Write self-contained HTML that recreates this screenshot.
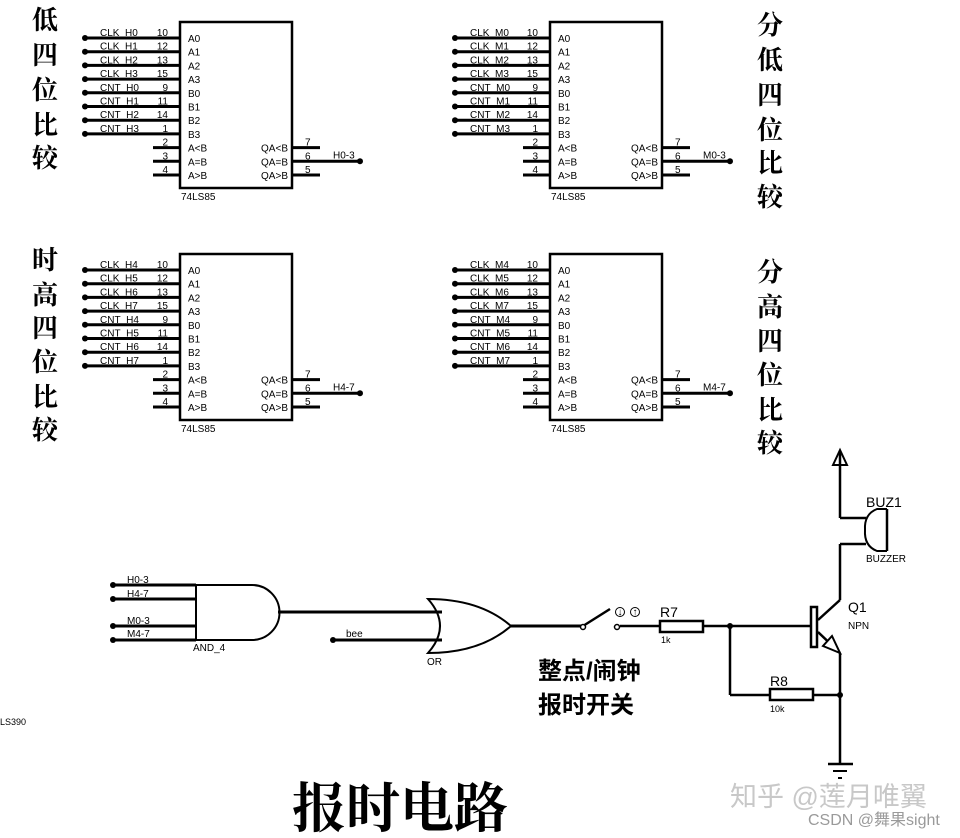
<!DOCTYPE html>
<html><head><meta charset="utf-8"><style>
html,body{margin:0;padding:0;background:#fff;}
svg{display:block;}
.t{font-family:"Liberation Sans",sans-serif;font-size:10px;fill:#000;}
.cj{font-family:"Liberation Serif","Noto Serif CJK SC",serif;font-weight:bold;font-size:26px;fill:#000;}
.cs{font-family:"Liberation Sans","Noto Sans CJK SC",sans-serif;font-weight:bold;fill:#000;}
</style></head><body>
<svg width="960" height="838" viewBox="0 0 960 838" xmlns="http://www.w3.org/2000/svg">
<g id="c1" stroke="#000" fill="none">
<rect x="180" y="22" width="112" height="166" stroke-width="2.5"/>
<g stroke-width="3">
<line x1="85" y1="38" x2="180" y2="38"/><line x1="85" y1="51.7" x2="180" y2="51.7"/><line x1="85" y1="65.4" x2="180" y2="65.4"/><line x1="85" y1="79.1" x2="180" y2="79.1"/><line x1="85" y1="92.8" x2="180" y2="92.8"/><line x1="85" y1="106.5" x2="180" y2="106.5"/><line x1="85" y1="120.2" x2="180" y2="120.2"/><line x1="85" y1="133.9" x2="180" y2="133.9"/>
<line x1="153" y1="147.6" x2="180" y2="147.6"/><line x1="153" y1="161.3" x2="180" y2="161.3"/><line x1="153" y1="175" x2="180" y2="175"/>
<line x1="292" y1="147.6" x2="320" y2="147.6"/><line x1="292" y1="161.3" x2="360" y2="161.3"/><line x1="292" y1="175" x2="320" y2="175"/>
</g>
<g fill="#000" stroke="none"><circle cx="85" cy="38" r="3"/><circle cx="85" cy="51.7" r="3"/><circle cx="85" cy="65.4" r="3"/><circle cx="85" cy="79.1" r="3"/><circle cx="85" cy="92.8" r="3"/><circle cx="85" cy="106.5" r="3"/><circle cx="85" cy="120.2" r="3"/><circle cx="85" cy="133.9" r="3"/><circle cx="360" cy="161.3" r="3"/></g>
</g>
<g class="t">
<text x="100" y="36">CLK_H0</text><text x="100" y="49.7">CLK_H1</text><text x="100" y="63.4">CLK_H2</text><text x="100" y="77.1">CLK_H3</text><text x="100" y="90.8">CNT_H0</text><text x="100" y="104.5">CNT_H1</text><text x="100" y="118.2">CNT_H2</text><text x="100" y="131.9">CNT_H3</text>
<g text-anchor="end"><text x="168" y="36">10</text><text x="168" y="49.7">12</text><text x="168" y="63.4">13</text><text x="168" y="77.1">15</text><text x="168" y="90.8">9</text><text x="168" y="104.5">11</text><text x="168" y="118.2">14</text><text x="168" y="131.9">1</text><text x="168" y="145.6">2</text><text x="168" y="159.3">3</text><text x="168" y="173">4</text>
<text x="288" y="151.6">QA&lt;B</text><text x="288" y="165.3">QA=B</text><text x="288" y="179">QA&gt;B</text></g>
<text x="188" y="42">A0</text><text x="188" y="55.7">A1</text><text x="188" y="69.4">A2</text><text x="188" y="83.1">A3</text><text x="188" y="96.8">B0</text><text x="188" y="110.5">B1</text><text x="188" y="124.2">B2</text><text x="188" y="137.9">B3</text><text x="188" y="151.6">A&lt;B</text><text x="188" y="165.3">A=B</text><text x="188" y="179">A&gt;B</text>
<text x="305" y="145.6">7</text><text x="305" y="159.3">6</text><text x="305" y="173">5</text><text x="333" y="158.3">H0-3</text>
<text x="181" y="200">74LS85</text>
</g>
<g transform="translate(370,0)">
<use href="#c1"/>
<g class="t">
<text x="100" y="36">CLK_M0</text><text x="100" y="49.7">CLK_M1</text><text x="100" y="63.4">CLK_M2</text><text x="100" y="77.1">CLK_M3</text><text x="100" y="90.8">CNT_M0</text><text x="100" y="104.5">CNT_M1</text><text x="100" y="118.2">CNT_M2</text><text x="100" y="131.9">CNT_M3</text>
<g text-anchor="end"><text x="168" y="36">10</text><text x="168" y="49.7">12</text><text x="168" y="63.4">13</text><text x="168" y="77.1">15</text><text x="168" y="90.8">9</text><text x="168" y="104.5">11</text><text x="168" y="118.2">14</text><text x="168" y="131.9">1</text><text x="168" y="145.6">2</text><text x="168" y="159.3">3</text><text x="168" y="173">4</text>
<text x="288" y="151.6">QA&lt;B</text><text x="288" y="165.3">QA=B</text><text x="288" y="179">QA&gt;B</text></g>
<text x="188" y="42">A0</text><text x="188" y="55.7">A1</text><text x="188" y="69.4">A2</text><text x="188" y="83.1">A3</text><text x="188" y="96.8">B0</text><text x="188" y="110.5">B1</text><text x="188" y="124.2">B2</text><text x="188" y="137.9">B3</text><text x="188" y="151.6">A&lt;B</text><text x="188" y="165.3">A=B</text><text x="188" y="179">A&gt;B</text>
<text x="305" y="145.6">7</text><text x="305" y="159.3">6</text><text x="305" y="173">5</text><text x="333" y="158.3">M0-3</text>
<text x="181" y="200">74LS85</text>
</g></g>
<g transform="translate(0,232)">
<use href="#c1"/>
<g class="t">
<text x="100" y="36">CLK_H4</text><text x="100" y="49.7">CLK_H5</text><text x="100" y="63.4">CLK_H6</text><text x="100" y="77.1">CLK_H7</text><text x="100" y="90.8">CNT_H4</text><text x="100" y="104.5">CNT_H5</text><text x="100" y="118.2">CNT_H6</text><text x="100" y="131.9">CNT_H7</text>
<g text-anchor="end"><text x="168" y="36">10</text><text x="168" y="49.7">12</text><text x="168" y="63.4">13</text><text x="168" y="77.1">15</text><text x="168" y="90.8">9</text><text x="168" y="104.5">11</text><text x="168" y="118.2">14</text><text x="168" y="131.9">1</text><text x="168" y="145.6">2</text><text x="168" y="159.3">3</text><text x="168" y="173">4</text>
<text x="288" y="151.6">QA&lt;B</text><text x="288" y="165.3">QA=B</text><text x="288" y="179">QA&gt;B</text></g>
<text x="188" y="42">A0</text><text x="188" y="55.7">A1</text><text x="188" y="69.4">A2</text><text x="188" y="83.1">A3</text><text x="188" y="96.8">B0</text><text x="188" y="110.5">B1</text><text x="188" y="124.2">B2</text><text x="188" y="137.9">B3</text><text x="188" y="151.6">A&lt;B</text><text x="188" y="165.3">A=B</text><text x="188" y="179">A&gt;B</text>
<text x="305" y="145.6">7</text><text x="305" y="159.3">6</text><text x="305" y="173">5</text><text x="333" y="158.3">H4-7</text>
<text x="181" y="200">74LS85</text>
</g></g>
<g transform="translate(370,232)">
<use href="#c1"/>
<g class="t">
<text x="100" y="36">CLK_M4</text><text x="100" y="49.7">CLK_M5</text><text x="100" y="63.4">CLK_M6</text><text x="100" y="77.1">CLK_M7</text><text x="100" y="90.8">CNT_M4</text><text x="100" y="104.5">CNT_M5</text><text x="100" y="118.2">CNT_M6</text><text x="100" y="131.9">CNT_M7</text>
<g text-anchor="end"><text x="168" y="36">10</text><text x="168" y="49.7">12</text><text x="168" y="63.4">13</text><text x="168" y="77.1">15</text><text x="168" y="90.8">9</text><text x="168" y="104.5">11</text><text x="168" y="118.2">14</text><text x="168" y="131.9">1</text><text x="168" y="145.6">2</text><text x="168" y="159.3">3</text><text x="168" y="173">4</text>
<text x="288" y="151.6">QA&lt;B</text><text x="288" y="165.3">QA=B</text><text x="288" y="179">QA&gt;B</text></g>
<text x="188" y="42">A0</text><text x="188" y="55.7">A1</text><text x="188" y="69.4">A2</text><text x="188" y="83.1">A3</text><text x="188" y="96.8">B0</text><text x="188" y="110.5">B1</text><text x="188" y="124.2">B2</text><text x="188" y="137.9">B3</text><text x="188" y="151.6">A&lt;B</text><text x="188" y="165.3">A=B</text><text x="188" y="179">A&gt;B</text>
<text x="305" y="145.6">7</text><text x="305" y="159.3">6</text><text x="305" y="173">5</text><text x="333" y="158.3">M4-7</text>
<text x="181" y="200">74LS85</text>
</g></g>

<g class="cj" text-anchor="middle">
<text x="45" y="29">低</text><text x="45" y="64">四</text><text x="45" y="99">位</text><text x="45" y="134">比</text><text x="45" y="167">较</text>
<text x="45" y="269">时</text><text x="45" y="304">高</text><text x="45" y="337">四</text><text x="45" y="371">位</text><text x="45" y="406">比</text><text x="45" y="439">较</text>
<text x="770" y="34">分</text><text x="770" y="69">低</text><text x="770" y="104">四</text><text x="770" y="139">位</text><text x="770" y="172">比</text><text x="770" y="206">较</text>
<text x="770" y="281">分</text><text x="770" y="316">高</text><text x="770" y="350">四</text><text x="770" y="384">位</text><text x="770" y="419">比</text><text x="770" y="452">较</text>
</g>

<g stroke="#000" fill="none">
<g stroke-width="3">
<line x1="113" y1="585" x2="196" y2="585"/><line x1="113" y1="599" x2="196" y2="599"/><line x1="113" y1="626" x2="196" y2="626"/><line x1="113" y1="640" x2="196" y2="640"/>
<line x1="278" y1="612" x2="442" y2="612"/><line x1="333" y1="640" x2="442" y2="640"/>
<line x1="511" y1="626" x2="583" y2="626"/>
</g>
<path d="M196 585 L252 585 A27.5 27.5 0 0 1 252 640 L196 640 Z" stroke-width="2"/>
<path d="M428 599 Q452 626 428 653 Q480 653 511 626 Q480 599 428 599 Z" stroke-width="2"/>
</g>
<g fill="#000"><circle cx="113" cy="585" r="3"/><circle cx="113" cy="599" r="3"/><circle cx="113" cy="626" r="3"/><circle cx="113" cy="640" r="3"/><circle cx="333" cy="640" r="3"/></g>
<g class="t">
<text x="127" y="583">H0-3</text><text x="127" y="597">H4-7</text><text x="127" y="624">M0-3</text><text x="127" y="637">M4-7</text>
<text x="193" y="651">AND_4</text><text x="346" y="637">bee</text><text x="427" y="665">OR</text>
<text x="0" y="725" font-size="9">LS390</text>
</g>

<g stroke="#000" fill="none" stroke-width="2.5">
<line x1="583" y1="626" x2="610" y2="609"/>
<line x1="620" y1="626" x2="660" y2="626"/>
<rect x="660" y="621" width="43" height="11" fill="#fff"/>
<line x1="703" y1="626" x2="810" y2="626"/>
<line x1="730" y1="626" x2="730" y2="695"/><line x1="730" y1="695" x2="770" y2="695"/>
<rect x="770" y="689" width="43" height="11" fill="#fff"/>
<line x1="813" y1="695" x2="840" y2="695"/>
<rect x="811" y="607" width="6" height="40" fill="#fff"/>
<line x1="818" y1="620" x2="840" y2="600"/>
<line x1="840" y1="600" x2="840" y2="544"/>
<line x1="840" y1="544" x2="866" y2="544"/>
<line x1="840" y1="518" x2="866" y2="518"/>
<line x1="840" y1="518" x2="840" y2="452"/>
<path d="M833 465 L840 450 L847 465 Z" stroke-width="2"/>
<line x1="887" y1="509" x2="887" y2="551"/>
<path d="M887 509 L877 509 Q864 514 865 530 Q864 546 877 551 L887 551" stroke-width="2"/>
<line x1="818" y1="632" x2="840" y2="653"/>
<line x1="840" y1="653" x2="840" y2="764"/>
<line x1="828" y1="764" x2="853" y2="764" stroke-width="2.5"/>
<line x1="833" y1="771" x2="847" y2="771" stroke-width="2"/>
<line x1="838" y1="778" x2="842" y2="778" stroke-width="2"/>
</g>
<path d="M823 646 L840 653 L832 636 Z" fill="#fff" stroke="#000" stroke-width="2"/>
<g fill="#fff" stroke="#000" stroke-width="1.5"><circle cx="583" cy="627" r="2.5"/><circle cx="617" cy="627" r="2.5"/></g>
<g fill="#000"><circle cx="730" cy="626" r="3"/><circle cx="840" cy="695" r="3"/></g>
<g fill="none" stroke="#000" stroke-width="1"><circle cx="620" cy="612" r="4.5"/><circle cx="635" cy="612" r="4.5"/></g>
<text x="620" y="615" font-size="7" text-anchor="middle" class="t">↓</text><text x="635" y="615" font-size="7" text-anchor="middle" class="t">↑</text>
<g class="t">
<text x="660" y="617" font-size="14">R7</text><text x="661" y="643" font-size="9">1k</text>
<text x="770" y="686" font-size="14">R8</text><text x="770" y="712" font-size="9">10k</text>
<text x="866" y="507" font-size="14">BUZ1</text><text x="866" y="562" font-size="10">BUZZER</text>
<text x="848" y="612" font-size="14">Q1</text><text x="848" y="629" font-size="10">NPN</text>
</g>
<text class="cs" x="538" y="679" font-size="24">整点/闹钟</text>
<text class="cs" x="538" y="713" font-size="24">报时开关</text>
<text x="292" y="827" font-family="'Liberation Serif','Noto Serif CJK SC',serif" font-weight="bold" font-size="54" fill="#000">报时电路</text>
<text x="730" y="806" font-family="'Liberation Sans','Noto Sans CJK SC',sans-serif" font-size="27" fill="#c8c8c8">知乎 @莲月唯翼</text>
<text x="808" y="825" font-family="'Liberation Sans','Noto Sans CJK SC',sans-serif" font-size="16" fill="#9a9a9a">CSDN @舞果sight</text>
</svg>
</body></html>
